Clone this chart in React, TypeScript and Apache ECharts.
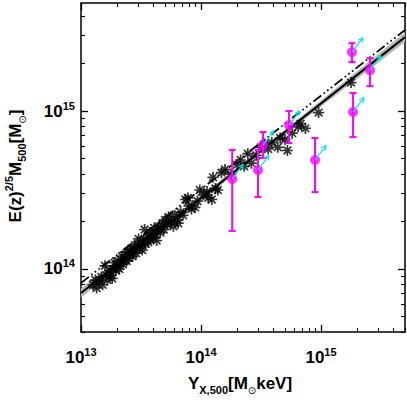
import React, { useEffect, useRef } from "react";
import * as echarts from "echarts";

// log10 values
const starLogYx = [
  13.10, 13.12, 13.13, 13.15, 13.17, 13.18, 13.20, 13.21, 13.22, 13.24,
  13.25, 13.26, 13.27, 13.28, 13.29, 13.30, 13.31, 13.32, 13.33, 13.34,
  13.35, 13.36, 13.37, 13.38, 13.39, 13.40, 13.41, 13.42, 13.43, 13.44,
  13.45, 13.46, 13.47, 13.48, 13.49, 13.50, 13.51, 13.52, 13.53, 13.54,
  13.55, 13.56, 13.57, 13.58, 13.59, 13.60, 13.61, 13.62, 13.63, 13.64,
  13.65, 13.66, 13.68, 13.69, 13.70, 13.72, 13.73, 13.75, 13.77, 13.78,
  13.80, 13.81, 13.83, 13.85, 13.87, 13.89, 13.90, 13.92, 13.95, 13.97,
  13.99, 14.02, 14.05, 14.06, 14.09, 14.10, 14.12, 14.14, 14.17, 14.20,
  14.25, 14.30, 14.33, 14.36, 14.39, 14.42, 14.46, 14.50, 14.53, 14.56,
  14.59, 14.64, 14.66, 14.70, 14.72, 14.76, 14.81, 14.83, 14.87, 14.98,
  15.25,
];
const starLogM = [
  13.90, 13.93, 13.88, 13.92, 13.95, 13.90, 14.02, 13.96, 13.93, 13.99,
  13.96, 13.94, 14.00, 14.04, 13.99, 14.02, 14.05, 14.00, 14.04, 14.08,
  14.03, 14.06, 14.09, 14.05, 14.11, 14.07, 14.10, 14.13, 14.08, 14.12,
  14.15, 14.10, 14.14, 14.19, 14.13, 14.16, 14.12, 14.18, 14.25, 14.16,
  14.20, 14.17, 14.22, 14.19, 14.23, 14.20, 14.26, 14.22, 14.18, 14.25,
  14.27, 14.23, 14.29, 14.25, 14.31, 14.28, 14.33, 14.30, 14.27, 14.34,
  14.31, 14.29, 14.36, 14.34, 14.44, 14.45, 14.40, 14.38, 14.39, 14.43,
  14.50, 14.47, 14.49, 14.45, 14.44, 14.58, 14.51, 14.50, 14.61, 14.63,
  14.60, 14.66, 14.69, 14.65, 14.73, 14.67, 14.72, 14.77, 14.79, 14.76,
  14.80, 14.77, 14.83, 14.82, 14.75, 14.86, 14.90, 14.92, 14.89, 14.99,
  15.18,
];

const magLogYx = [14.26, 14.475, 14.517, 14.733, 14.95, 15.267, 15.258, 15.408];
const magLogM = [14.57, 14.627, 14.785, 14.911, 14.69, 14.994, 15.373, 15.259];
const magLogLo = [14.241, 14.456, 14.703, 14.797, 14.487, 14.835, 15.31, 15.158];
const magLogHi = [14.753, 14.753, 14.867, 15.0, 14.829, 15.114, 15.43, 15.335];
const arrowDex = 0.09;

const fitX = [13.0, 15.7];
const fitY = [13.848, 15.468];
const altX = [13.0, 15.7];
const altY = [13.911, 15.513];
const bandX = [13.0, 14.5, 15.7];
const bandLo = [13.818, 14.736, 15.437];
const bandHi = [13.878, 14.76, 15.499];

const xMajor = [13, 14, 15];
const yMajor = [14, 15];
const xRange = [13.0, 15.7];
const yRange = [13.601, 15.684];

const FONT = "'Liberation Sans', Arial, Helvetica, sans-serif";

function minors(lo: number, hi: number) {
  const out: number[] = [];
  for (let d = Math.floor(lo); d <= Math.ceil(hi); d++) {
    for (let k = 2; k <= 9; k++) {
      const v = d + Math.log10(k);
      if (v > lo && v < hi) out.push(v);
    }
  }
  return out;
}

const labelRich = {
  b: { fontSize: 17, fontWeight: "bold", fontFamily: FONT, color: "#000", lineHeight: 22 },
  s: { fontSize: 11, fontWeight: "bold", fontFamily: FONT, color: "#000", verticalAlign: "top", lineHeight: 12 },
};
const titleRich = {
  m: { fontSize: 17, fontWeight: "bold", fontFamily: FONT, color: "#000", lineHeight: 24 },
  sub: { fontSize: 11, fontWeight: "bold", fontFamily: FONT, color: "#000", verticalAlign: "bottom", lineHeight: 12 },
  sup: { fontSize: 11, fontWeight: "bold", fontFamily: FONT, color: "#000", verticalAlign: "top", lineHeight: 12 },
  o: { fontSize: 10, fontFamily: "'DejaVu Sans', sans-serif", color: "#000", verticalAlign: "bottom", lineHeight: 12 },
};

const STAR = "path://M0 5 L10 5 M5 0 L5 10 M1.5 1.5 L8.5 8.5 M1.5 8.5 L8.5 1.5";

function axisPair(kind: "x" | "y", pos: string, major: number[], range: number[], labels: boolean) {
  const base = {
    type: "value",
    min: range[0],
    max: range[1],
    position: pos,
    axisLine: { show: false },
    splitLine: { show: false },
  };
  return [
    {
      ...base,
      axisTick: { show: true, inside: true, length: 7, customValues: major, lineStyle: { color: "#000", width: 1.3 } },
      axisLabel: labels
        ? {
            show: true,
            customValues: major,
            margin: kind === "x" ? 14 : 6,
            formatter: (v: number) => `{b|10}{s|${Math.round(v)}}`,
            rich: labelRich,
          }
        : { show: false },
    },
    {
      ...base,
      axisTick: { show: true, inside: true, length: 4, customValues: minors(range[0], range[1]), lineStyle: { color: "#000", width: 1.1 } },
      axisLabel: { show: false },
    },
  ];
}

export default function App() {
  const ref = useRef<HTMLDivElement>(null);
  useEffect(() => {
    if (!ref.current) return;
    const chart = echarts.init(ref.current, undefined, { renderer: "svg" });
    const stars = starLogYx.map((x, i) => [x, starLogM[i]]);
    const mags = magLogYx.map((x, i) => [x, magLogM[i], magLogLo[i], magLogHi[i]]);
    const option: any = {
      animation: false,
      grid: { left: 81, right: 2, top: 3, bottom: 75, show: true, borderColor: "#000", borderWidth: 1.5, backgroundColor: "transparent" },
      xAxis: [
        ...axisPair("x", "bottom", xMajor, xRange, true),
        ...axisPair("x", "top", xMajor, xRange, false),
      ],
      yAxis: [
        ...axisPair("y", "left", yMajor, yRange, true),
        ...axisPair("y", "right", yMajor, yRange, false),
      ],
      graphic: [
        {
          type: "text",
          x: 240,
          y: 383,
          style: {
            text: "{m|Y}{sub|X,500}{m|[M}{o|⊙}{m|keV]}",
            rich: titleRich,
            align: "center",
            verticalAlign: "middle",
          },
        },
        {
          type: "text",
          x: 15,
          y: 166,
          rotation: Math.PI / 2,
          style: {
            text: "{m|E(z)}{sup|2/5}{m|M}{sub|500}{m|[M}{o|⊙}{m|]}",
            rich: titleRich,
            align: "center",
            verticalAlign: "middle",
          },
        },
      ],
      series: [
        {
          type: "custom",
          xAxisIndex: 0,
          yAxisIndex: 0,
          data: [[bandX[0], bandLo[0]]],
          z: 1,
          renderItem: (params: any, api: any) => {
            const pts: number[][] = [];
            bandX.forEach((x, i) => pts.push(api.coord([x, bandHi[i]])));
            for (let i = bandX.length - 1; i >= 0; i--) pts.push(api.coord([bandX[i], bandLo[i]]));
            return { type: "polygon", shape: { points: pts }, style: { fill: "#b8b8b8", stroke: "none" } };
          },
        },
        {
          type: "scatter",
          xAxisIndex: 0,
          yAxisIndex: 0,
          data: stars,
          symbol: STAR,
          symbolSize: 11,
          z: 2,
          itemStyle: { color: "#000", borderColor: "#000", borderWidth: 1.7 },
        },
        {
          type: "line",
          xAxisIndex: 0,
          yAxisIndex: 0,
          data: fitX.map((x, i) => [x, fitY[i]]),
          symbol: "none",
          z: 3,
          lineStyle: { color: "#000", width: 2 },
        },
        {
          type: "line",
          xAxisIndex: 0,
          yAxisIndex: 0,
          data: altX.map((x, i) => [x, altY[i]]),
          symbol: "none",
          z: 3,
          lineStyle: { color: "#000", width: 1.8, type: [10, 3, 1.6, 3, 1.6, 3, 1.6, 3] },
        },
        {
          type: "custom",
          xAxisIndex: 0,
          yAxisIndex: 0,
          data: mags,
          z: 4,
          renderItem: (params: any, api: any) => {
            const x = api.value(0);
            const top = api.coord([x, api.value(3)]);
            const bot = api.coord([x, api.value(2)]);
            const cap = 3.5;
            const st = { stroke: "#ff00ff", lineWidth: 2 };
            return {
              type: "group",
              children: [
                { type: "line", shape: { x1: top[0], y1: top[1], x2: bot[0], y2: bot[1] }, style: st },
                { type: "line", shape: { x1: top[0] - cap, y1: top[1], x2: top[0] + cap, y2: top[1] }, style: st },
                { type: "line", shape: { x1: bot[0] - cap, y1: bot[1], x2: bot[0] + cap, y2: bot[1] }, style: st },
              ],
            };
          },
        },
        {
          type: "scatter",
          xAxisIndex: 0,
          yAxisIndex: 0,
          data: mags.map((d) => [d[0], d[1]]),
          symbol: "circle",
          symbolSize: 10,
          z: 5,
          itemStyle: { color: "#ff00ff" },
        },
        {
          type: "custom",
          xAxisIndex: 0,
          yAxisIndex: 0,
          data: mags.map((d) => [d[0], d[1]]),
          z: 6,
          renderItem: (params: any, api: any) => {
            const x = api.value(0);
            const y = api.value(1);
            const a = api.coord([x, y]);
            const b = api.coord([x + arrowDex, y + arrowDex]);
            const ang = Math.atan2(b[1] - a[1], b[0] - a[0]);
            const h = 5;
            const st = { stroke: "#00e8f0", lineWidth: 1.2, fill: "none" };
            const p1 = [b[0] - h * Math.cos(ang - 0.5), b[1] - h * Math.sin(ang - 0.5)];
            const p2 = [b[0] - h * Math.cos(ang + 0.5), b[1] - h * Math.sin(ang + 0.5)];
            return {
              type: "group",
              children: [
                { type: "line", shape: { x1: a[0], y1: a[1], x2: b[0], y2: b[1] }, style: st },
                { type: "polyline", shape: { points: [p1, b, p2] }, style: st },
              ],
            };
          },
        },
      ],
    };
    chart.setOption(option);
    return () => chart.dispose();
  }, []);
  return <div ref={ref} style={{ position: "absolute", left: 0, top: 0, width: 407, height: 407 }} />;
}
